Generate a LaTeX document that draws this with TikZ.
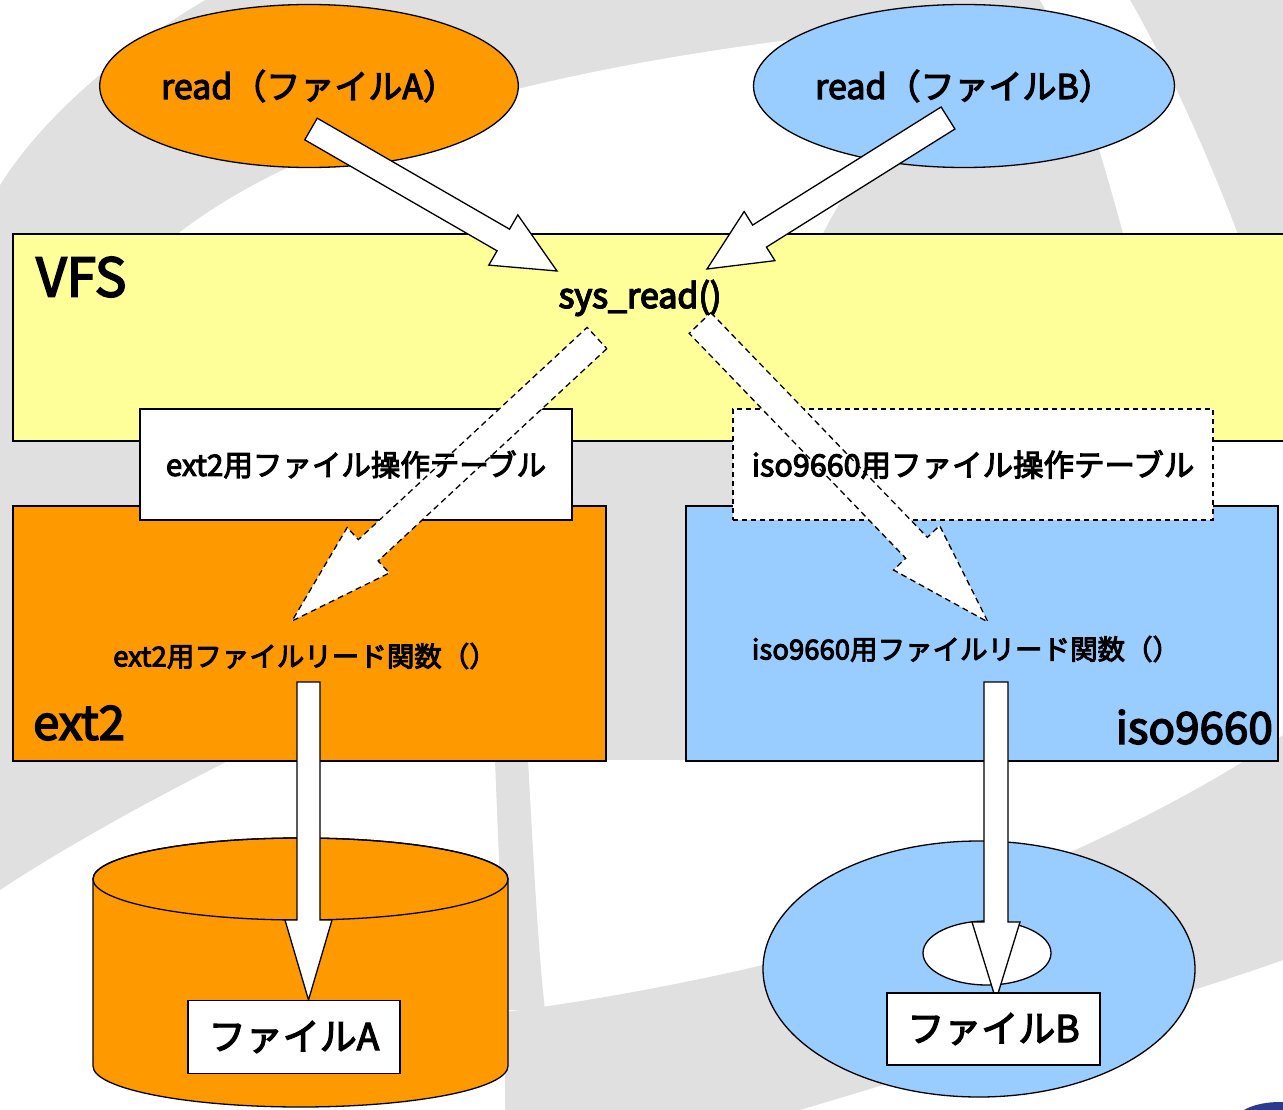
\documentclass[tikz,border=0pt]{standalone}
\usepackage{fontspec}
\setmainfont{Noto Sans CJK JP}[BoldFont={Noto Sans CJK JP},BoldFeatures={FakeBold=3.5}]
\usetikzlibrary{shapes.geometric,calc}
\definecolor{orng}{HTML}{FF9900}
\definecolor{lblue}{HTML}{99CCFF}
\definecolor{lyel}{HTML}{FFFF99}
\definecolor{bggray}{HTML}{E0E0E0}
\definecolor{navyblob}{HTML}{2B3A8C}
% #1 style, #2 tail, #3 tip, #4 half shaft width, #5 half head width, #6 head length
\newcommand{\fatarrow}[6]{%
  \coordinate (hb) at ($(#3)!#6!(#2)$);
  \draw[#1] ($(#2)!#4!90:(#3)$) -- ($(hb)!#4!90:(#3)$) -- ($(hb)!#5!90:(#3)$) -- (#3)
    -- ($(hb)!#5!-90:(#3)$) -- ($(hb)!#4!-90:(#3)$) -- ($(#2)!#4!-90:(#3)$) -- cycle;
}
\begin{document}
\begin{tikzpicture}[x=1pt,y=-1pt,
  fs/.style={font=\fontsize{#1pt}{#1pt}\selectfont\bfseries},
  boxline/.style={draw=black,line width=1.6pt},
  solidarrow/.style={fill=white,draw=black,line width=1.3pt,line join=miter},
  dasharrow/.style={fill=white,draw=black,line width=1.3pt,dash pattern=on 6pt off 4pt,line join=miter},
  tablebox/.style={fill=white,line width=1.6pt,inner sep=0,minimum height=111pt}]
\useasboundingbox (0,0) rectangle (1283,1110);
\clip (0,0) rectangle (1283,1110);
% ---------- background ----------
\fill[bggray] (0,0) rectangle (1283,1110);
\fill[white] (0,0) -- (205,0) .. controls (120,50) and (40,120) .. (0,185) -- cycle;
\fill[white] (170,240) .. controls (330,110) and (650,40) .. (1060,15) .. controls (960,70) and (860,150) .. (820,240) -- cycle;
\fill[white] (1040,0) -- (1130,0) .. controls (1170,70) and (1210,160) .. (1240,240) -- (1125,240) .. controls (1100,150) and (1075,60) .. (1040,0);
\fill[white] (1200,440) -- (1283,440) -- (1283,760) -- (1180,760) -- cycle;
\fill[white] (0,760) rectangle (1283,1110);
\fill[bggray] (0,760) -- (230,760) .. controls (150,800) and (60,850) .. (0,890) -- cycle;
\fill[bggray] (495,760) -- (528,760) .. controls (533,850) and (538,950) .. (545,1010) -- (505,1010) -- cycle;
\fill[bggray] (505,1012) .. controls (600,1000) and (700,980) .. (763,965) .. controls (900,930) and (1150,830) .. (1283,735)
  -- (1283,960) .. controls (1200,990) and (1000,1050) .. (800,1110) -- (505,1110) -- cycle;
\fill[navyblob] (1280,1122) ellipse [x radius=45, y radius=20];
% ---------- top ellipses ----------
\node[ellipse,draw=black,line width=1.3pt,fill=orng,minimum width=400pt,minimum height=163pt,inner sep=0,fs=34] (rA) at (309,86) {read（ファイルA）};
\node[ellipse,draw=black,line width=1.3pt,fill=lblue,minimum width=400pt,minimum height=163pt,inner sep=0,fs=34] (rB) at (964,86) {read（ファイルB）};
% ---------- VFS ----------
\node[boxline,fill=lyel,minimum width=1290pt,minimum height=207pt,inner sep=0,anchor=north west] (vfs) at (12,233) {};
\node[fs=53,anchor=west,inner sep=0] (vfslbl) at (36,277) {VFS};
\node[fs=34,inner sep=0] (sysread) at (640,298) {sys\_read()};
% ---------- ext2 / iso9660 boxes ----------
\node[boxline,fill=orng,minimum width=593pt,minimum height=255pt,inner sep=0,anchor=north west] (ext2) at (12,505) {};
\node[boxline,fill=lblue,minimum width=592pt,minimum height=255pt,inner sep=0,anchor=north west] (iso) at (685,505) {};
\node[fs=47,anchor=west,inner sep=0] (ext2lbl) at (33,723) {ext2};
\node[fs=44,anchor=east,inner sep=0] (isolbl) at (1273,727) {iso9660};
% ---------- operation tables ----------
\node[tablebox,draw=black,minimum width=432pt] (tabA) at (356,464.5) {};
\node[tablebox,draw=black,dash pattern=on 5pt off 4pt,minimum width=480pt] (tabB) at (973,464.5) {};
% ---------- cylinder (disk) ----------
\draw[fill=orng,line width=1.3pt] (93,879) -- (93,1066) arc[start angle=180,end angle=0,x radius=207.5,y radius=41]
  -- (508,879) arc[start angle=0,end angle=-180,x radius=207.5,y radius=41] -- cycle;
\draw[line width=1.3pt] (300.5,879) ellipse [x radius=207.5, y radius=41];
% ---------- CD ----------
\node[ellipse,draw=black,line width=1.3pt,fill=lblue,minimum width=432pt,minimum height=256pt,inner sep=0] (cd) at (979,969) {};
\node[ellipse,draw=black,line width=1.3pt,fill=white,minimum width=128pt,minimum height=64pt,inner sep=0] (hole) at (987,953) {};
% ---------- connector end points ----------
\coordinate (aTail) at (311,129);
\coordinate (aTip) at (557,271);
\coordinate (bTail) at (948,118);
\coordinate (bTip) at (707,269);
\coordinate (lTail) at (597,338);
\coordinate (lTip) at (292,621);
\coordinate (rTail) at (700,323);
\coordinate (rTip) at (988,622);
\coordinate (dATail) at (308.5,682);
\coordinate (dATip) at (308.5,1000);
\coordinate (dBTail) at (996,682);
\coordinate (dBTip) at (996,1000);
% ---------- arrows ----------
\fatarrow{solidarrow}{aTail}{aTip}{12.5pt}{29pt}{62pt}
\fatarrow{solidarrow}{bTail}{bTip}{13pt}{29pt}{62pt}
\fatarrow{dasharrow}{lTail}{lTip}{14.5pt}{31pt}{104pt}
\fatarrow{dasharrow}{rTail}{rTip}{15pt}{32pt}{103pt}
\fatarrow{solidarrow}{dATail}{dATip}{11.5pt}{23.5pt}{80pt}
\fatarrow{solidarrow}{dBTail}{dBTip}{12pt}{24pt}{78pt}
% ---------- texts over arrows ----------
\node[fs=29.5,inner sep=0] (tabAlbl) at (tabA) {ext2用ファイル操作テーブル};
\node[fs=30.5,inner sep=0] (tabBlbl) at (tabB) {iso9660用ファイル操作テーブル};
\node[fs=27.5,inner sep=0] (fnA) at (305,656) {ext2用ファイルリード関数（）};
\node[fs=27.5,inner sep=0] (fnB) at (966,649) {iso9660用ファイルリード関数（）};
\node[fs=34,inner sep=0] at (sysread) {sys\_read()};
% ---------- file boxes ----------
\node[boxline,fill=white,minimum width=212pt,minimum height=73pt,inner sep=0,fs=37] (fA) at (294,1037) {ファイルA};
\node[boxline,fill=white,minimum width=213pt,minimum height=72pt,inner sep=0,fs=37] (fB) at (993.5,1029) {ファイルB};
\end{tikzpicture}
\end{document}
